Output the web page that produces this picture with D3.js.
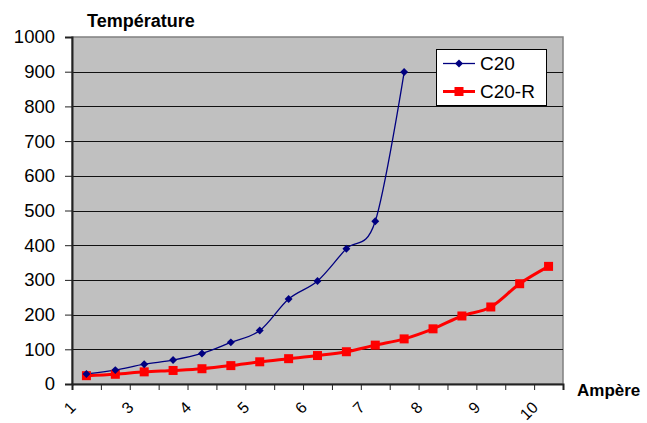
<!DOCTYPE html>
<html><head><meta charset="utf-8">
<script src="https://cdn.jsdelivr.net/npm/d3@7/dist/d3.min.js"></script>
<style>
html,body{margin:0;padding:0;background:#fff;}
svg{display:block;font-family:"Liberation Sans",Arial,sans-serif;}
</style></head>
<body><svg id="c" width="647" height="423"></svg>
<script>
// measurement index along the category axis
const categories = ["1","2","3","4","5","6","7","8","9","10","11","12","13","14","15","16","17"];
// labels shown on every other category boundary
const xTickLabels = ["1","3","4","5","6","7","8","9","10"];
const yTickValues = [0,100,200,300,400,500,600,700,800,900,1000];
const seriesNames = ["C20","C20-R"];
const c20  = [29,40,57,69,88,120,154,245,297,390,469,899];
const c20r = [24,28,35,39,44,53,64,73,82,93,112,130,159,196,222,289,339];

const svg = d3.select("#c");
const L=72, R=563, T=37, B=384;
const x = d3.scaleBand().domain(categories).range([L,R]).paddingInner(0).paddingOuter(0);
const xb = d3.scaleLinear().domain([0,categories.length]).range([L,R]);
const y = d3.scaleLinear().domain([0,1000]).range([B,T]);
const cx = c => x(c)+x.bandwidth()/2;

// plot area
svg.append("rect").attr("x",L).attr("y",T).attr("width",R-L).attr("height",B-T)
  .attr("fill","#C0C0C0").attr("stroke","#808080").attr("stroke-width",1.5);

// gridlines
svg.append("g").selectAll("line").data(yTickValues.filter(v=>v>0&&v<1000)).join("line")
  .attr("x1",L).attr("x2",R).attr("y1",d=>Math.round(y(d))+0.5).attr("y2",d=>Math.round(y(d))+0.5)
  .attr("stroke","#111").attr("stroke-width",1);

// y axis
const ya = svg.append("g").attr("transform",`translate(${L},0)`)
  .call(d3.axisLeft(y).tickValues(yTickValues).tickSize(7).tickPadding(10).tickFormat(d3.format("d")));
ya.select(".domain").attr("stroke","#222").attr("stroke-width",2);
ya.selectAll(".tick line").attr("stroke","#222");
ya.selectAll("text").attr("font-size","18.5px").attr("fill","#000").attr("font-family","Liberation Sans, Arial, sans-serif");

// x axis (ticks on category boundaries)
const xa = svg.append("g").attr("transform",`translate(0,${B})`)
  .call(d3.axisBottom(xb).tickValues(d3.range(categories.length+1)).tickSize(6).tickFormat(""));
xa.select(".domain").attr("stroke","#222").attr("stroke-width",2);
xa.selectAll(".tick line").attr("stroke","#222");

svg.append("g").selectAll("text").data(xTickLabels).join("text")
  .attr("transform",(d,i)=>`translate(${xb(i*2)+1},${404.5}) rotate(-45)`)
  .attr("text-anchor","end").attr("dominant-baseline","central")
  .attr("font-size","16px").attr("fill","#000").text(d=>d);

// lines
const line = d3.line().x(d=>cx(d.c)).y(d=>y(d.v)).curve(d3.curveCatmullRom.alpha(0));
const d1 = c20.map((v,i)=>({c:categories[i],v}));
const d2 = c20r.map((v,i)=>({c:categories[i],v}));

svg.append("path").datum(d2).attr("d",line).attr("fill","none").attr("stroke","#FF0000").attr("stroke-width",3);
svg.append("path").datum(d1).attr("d",line).attr("fill","none").attr("stroke","#000080").attr("stroke-width",1.3);

svg.append("g").selectAll("rect").data(d2).join("rect")
  .attr("x",d=>cx(d.c)-4.5).attr("y",d=>y(d.v)-4.5).attr("width",9).attr("height",9).attr("fill","#FF0000");
svg.append("g").selectAll("path").data(d1).join("path")
  .attr("d",d3.symbol(d3.symbolDiamond2,40)).attr("transform",d=>`translate(${cx(d.c)},${y(d.v)})`)
  .attr("fill","#000080");

// titles
svg.append("text").attr("x",87).attr("y",26.5).attr("font-size","18px").attr("font-weight","bold").text("Température");
svg.append("text").attr("x",577).attr("y",396).attr("font-size","17px").attr("font-weight","bold").text("Ampère");

// legend
const lg = svg.append("g");
lg.append("rect").attr("x",436.5).attr("y",49.5).attr("width",110).attr("height",56).attr("fill","#fff").attr("stroke","#000").attr("stroke-width",1);
const ly = [63.5,91.5];
lg.append("line").attr("x1",443).attr("x2",475).attr("y1",ly[0]).attr("y2",ly[0]).attr("stroke","#000080").attr("stroke-width",1.3);
lg.append("path").attr("d",d3.symbol(d3.symbolDiamond2,40)).attr("transform",`translate(459,${ly[0]})`).attr("fill","#000080");
lg.append("line").attr("x1",443).attr("x2",475).attr("y1",ly[1]).attr("y2",ly[1]).attr("stroke","#FF0000").attr("stroke-width",3);
lg.append("rect").attr("x",454.5).attr("y",ly[1]-4.5).attr("width",9).attr("height",9).attr("fill","#FF0000");
lg.selectAll("text.l").data(seriesNames).join("text").attr("class","l")
  .attr("x",480).attr("y",(d,i)=>ly[i]+6.5).attr("font-size","19px").text(d=>d);
</script></body></html>
